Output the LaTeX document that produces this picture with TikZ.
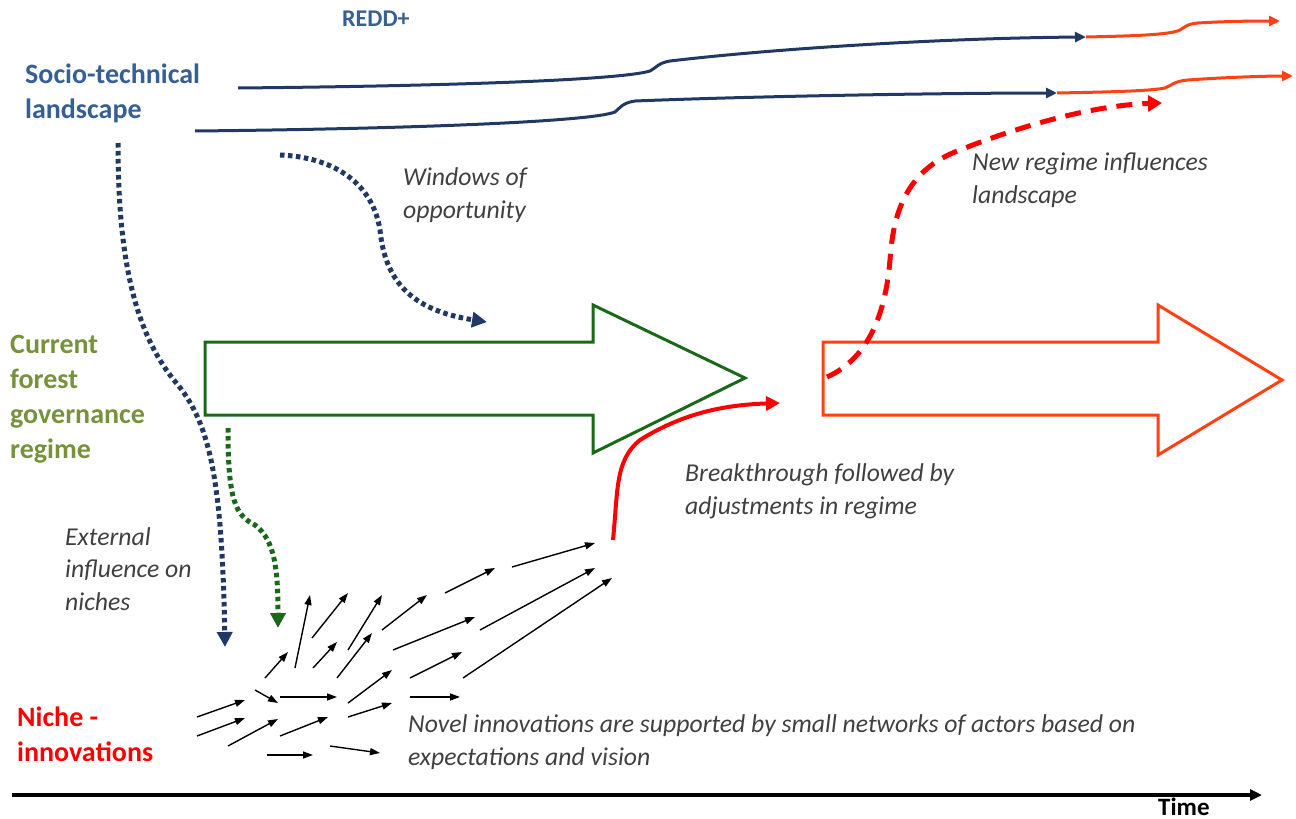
\documentclass[tikz,border=0pt]{standalone}
\usepackage{fontspec}
\setmainfont{Carlito}
\usepackage{xcolor}
\usetikzlibrary{arrows.meta}
\definecolor{navy}{RGB}{31,56,100}
\definecolor{titleblue}{RGB}{54,95,150}
\definecolor{forest}{RGB}{25,105,25}
\definecolor{olive}{RGB}{118,146,60}
\definecolor{flame}{RGB}{255,65,20}
\definecolor{textgray}{RGB}{64,64,64}

\begin{document}
\begin{tikzpicture}[x=1pt,y=-1pt,
		lbl/.style={anchor=base west,align=left,inner sep=0pt,font=\bfseries\fontsize{28}{35}\selectfont},
		note/.style={anchor=base west,align=left,inner sep=0pt,text=textgray,font=\itshape\fontsize{25.7}{32.5}\selectfont},
		trend/.style={navy,line width=3pt,-{Triangle[length=11pt,width=10pt]}},
		newtrend/.style={flame,line width=3pt,-{Triangle[length=11pt,width=10pt]}},
		influence/.style={line width=5pt,dash pattern=on 4.5pt off 3.5pt,-{Triangle[length=15pt,width=15pt]}},
		regime/.style={line width=3pt,line join=miter},
		small/.style={black,line width=1.4pt,-{Triangle[length=10pt,width=7pt]}}]
		\useasboundingbox (0,0) rectangle (1296,819);
		% labels (anchored on the last line)
		\node[lbl,text=titleblue] (landscape) at (25,118) {Socio-technical\\landscape};
		\node[lbl,text=titleblue,font=\bfseries\fontsize{24}{28}\selectfont] (redd) at (342,27) {REDD+};
		\node[lbl,text=olive] (current) at (10,458) {Current\\forest\\governance\\regime};
		\node[lbl,text=red] (niche) at (17,761) {Niche -\\innovations};
		\node[note] (windows) at (403,218) {Windows of\\opportunity};
		\node[note] (feedback) at (972,203) {New regime influences\\landscape};
		\node[note] (breakthrough) at (685,514) {Breakthrough followed by\\adjustments in regime};
		\node[note] (external) at (65,610) {External\\influence on\\niches};
		\node[note] (novel) at (408,765) {Novel innovations are supported by small networks of actors based on\\expectations and vision};
		\node[lbl,font=\bfseries\fontsize{25}{28}\selectfont] (time) at (1158,815) {Time};
		% landscape trends
		\coordinate (a0) at (238,88);
		\coordinate (a1) at (1086,37);
		\coordinate (a2) at (1280,21);
		\coordinate (b0) at (195,131);
		\coordinate (b1) at (1057,93);
		\coordinate (b2) at (1293,76);
		\draw[trend] (a0) .. controls (450,86) and (620,80) .. (650,71) .. controls (656,68) and (658,63) .. (670,61) .. controls (780,48) and (950,38) .. (a1);
		\draw[newtrend] (a1) .. controls (1130,36) and (1170,35) .. (1180,30) .. controls (1185,27) and (1187,24) .. (1198,23) .. controls (1230,21) and (1260,21) .. (a2);
		\draw[trend] (b0) .. controls (400,129) and (590,122) .. (615,112) .. controls (620,108) and (622,103) .. (635,101) .. controls (760,96) and (950,93) .. (b1);
		\draw[newtrend] (b1) .. controls (1110,92) and (1150,91) .. (1165,88) .. controls (1172,85) and (1175,81) .. (1188,80) .. controls (1230,77) and (1270,76) .. (b2);
		% regimes
		\draw[regime,forest] (205,342) -- (593,342) -- (593,305) -- (745,378) -- (593,453) -- (593,415) -- (205,415) -- cycle;
		\draw[regime,flame] (823,342) -- (1158,342) -- (1158,305) -- (1282,380) -- (1158,455) -- (1158,415) -- (823,415) -- cycle;
		% influences
		\coordinate (w0) at (280,155);
		\coordinate (w1) at (487,322);
		\coordinate (e0) at (118,143);
		\coordinate (e1) at (225,647);
		\coordinate (g0) at (228,428);
		\coordinate (g1) at (278,628);
		\draw[influence,navy] (w0) .. controls (330,157) and (372,180) .. (380,230) .. controls (385,280) and (410,310) .. (w1);
		\draw[influence,navy] (e0) .. controls (118,260) and (135,335) .. (178,385) .. controls (210,425) and (222,480) .. (e1);
		\draw[influence,forest] (g0) .. controls (228,500) and (235,515) .. (255,525) .. controls (275,540) and (278,570) .. (g1);
		\coordinate (r0) at (613,540);
		\coordinate (r1) at (780,403);
		\draw[red,line width=4pt,-{Triangle[length=14pt,width=14pt]}] (r0) .. controls (618,490) and (615,460) .. (640,440) .. controls (680,415) and (720,405) .. (r1);
		\coordinate (n0) at (827,377);
		\coordinate (n1) at (1162,103);
		\draw[red,line width=5pt,dash pattern=on 16pt off 10pt,-{Triangle[length=14pt,width=16pt]}] (n0) .. controls (865,360) and (885,320) .. (890,260) .. controls (893,215) and (905,170) .. (960,150) .. controls (1030,122) and (1100,105) .. (n1);
		% niche arrows
		\foreach \xa/\ya/\xb/\yb in {197/717/245/700, 197/736/245/718, 228/746/278/719, 255/690/278/703,
			280/697/337/697, 280/736/328/717, 267/755/313/755, 330/746/380/753,
			265/678/288/652, 295/668/310/595, 313/668/337/642, 312/638/348/593,
			337/678/372/633, 348/650/382/595, 348/703/392/670, 348/717/392/703,
			382/630/427/595, 410/697/460/697, 410/678/462/652, 393/650/475/617,
			445/593/495/568, 463/678/612/578, 480/630/595/568, 512/567/595/543}
			\draw[small] (\xa,\ya) -- (\xb,\yb);
		% time axis
		\coordinate (t0) at (12,795);
		\coordinate (t1) at (1262,795);
		\draw[line width=3.5pt,-{Triangle[length=12pt,width=11pt]}] (t0) -- (t1);
	\end{tikzpicture}
\end{document}
